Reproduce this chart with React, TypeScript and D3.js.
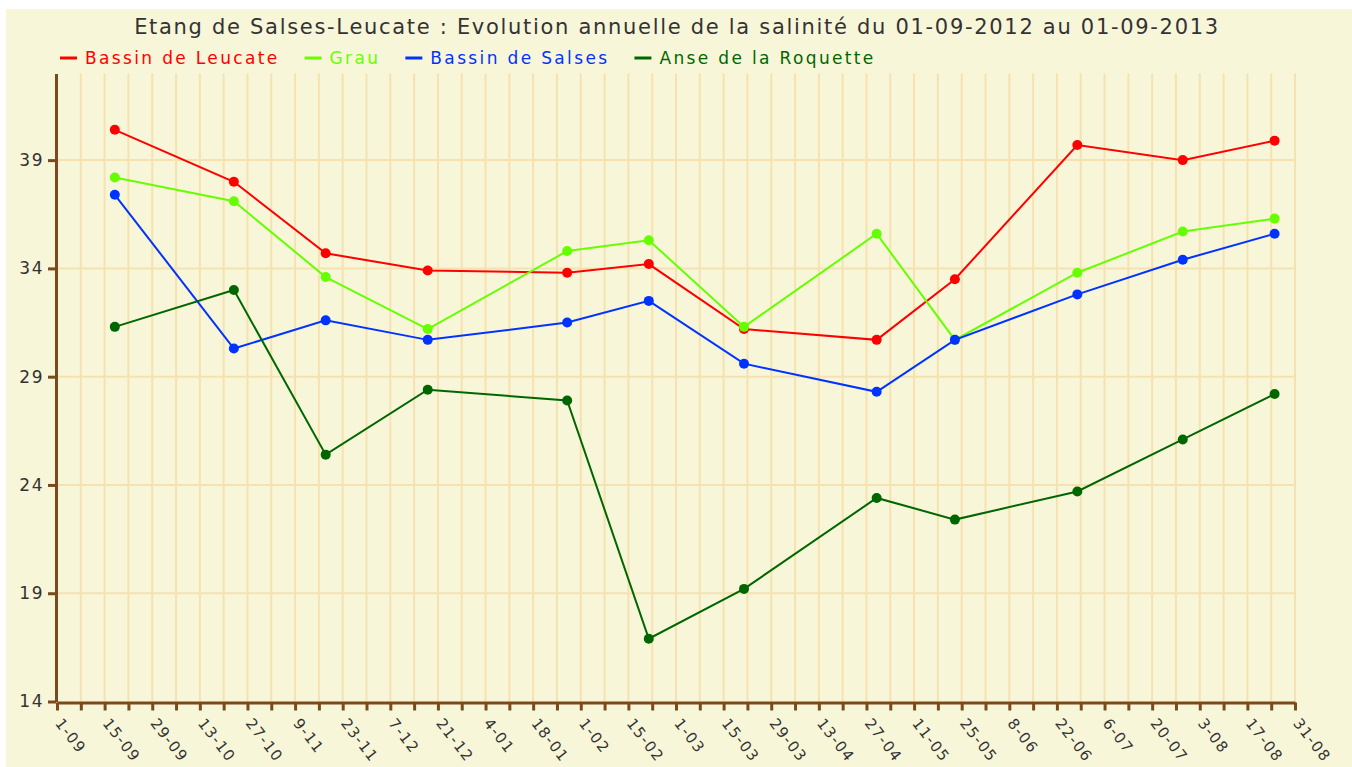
import { useEffect, useRef } from 'react';
import * as d3 from 'd3';

const title = 'Etang de Salses-Leucate : Evolution annuelle de la salinité du 01-09-2012 au 01-09-2013';

const sampleDates = [
  '2012-09-18', '2012-10-23', '2012-11-19', '2012-12-19', '2013-01-29', '2013-02-22',
  '2013-03-22', '2013-04-30', '2013-05-23', '2013-06-28', '2013-07-29', '2013-08-25',
];

const seriesNames = ['Bassin de Leucate', 'Grau', 'Bassin de Salses', 'Anse de la Roquette'];
const seriesColors = ['#ff0000', '#66ff00', '#0033ff', '#006600'];

const leucate = [40.4, 38.0, 34.7, 33.9, 33.8, 34.2, 31.2, 30.7, 33.5, 39.7, 39.0, 39.9];
const grau = [38.2, 37.1, 33.6, 31.2, 34.8, 35.3, 31.3, 35.6, 30.7, 33.8, 35.7, 36.3];
const salses = [37.4, 30.3, 31.6, 30.7, 31.5, 32.5, 29.6, 28.3, 30.7, 32.8, 34.4, 35.6];
const roquette = [31.3, 33.0, 25.4, 28.4, 27.9, 16.9, 19.2, 23.4, 22.4, 23.7, 26.1, 28.2];

const yTicks = [14, 19, 24, 29, 34, 39];
const yDomain: [number, number] = [14, 43];

const xTickLabels = [
  '1-09', '15-09', '29-09', '13-10', '27-10', '9-11', '23-11', '7-12', '21-12',
  '4-01', '18-01', '1-02', '15-02', '1-03', '15-03', '29-03', '13-04', '27-04',
  '11-05', '25-05', '8-06', '22-06', '6-07', '20-07', '3-08', '17-08', '31-08',
];
const xStart = '2012-09-01';
const xEnd = '2013-08-31';

const W = 1352;
const H = 767;
const FONT = '"DejaVu Sans", Verdana, sans-serif';
const BROWN = '#7a4a1d';
const GRID = '#f5e2b0';

export default function App() {
  const ref = useRef<SVGSVGElement>(null);

  useEffect(() => {
    if (!ref.current) return;
    const svg = d3.select(ref.current);
    svg.selectAll('*').remove();

    const margin = { top: 73.5, right: 57, bottom: 65.5, left: 57 };
    const x0 = margin.left;
    const x1 = W - margin.right;
    const y0 = H - margin.bottom;
    const y1 = margin.top;

    const parse = d3.utcParse('%Y-%m-%d');
    const start = parse(xStart) as Date;
    const end = parse(xEnd) as Date;

    const x = d3.scaleUtc().domain([start, end]).range([x0, x1]);
    const y = d3.scaleLinear().domain(yDomain).range([y0, y1]);

    svg.append('rect')
      .attr('x', 6).attr('y', 9)
      .attr('width', W - 6).attr('height', H - 9)
      .attr('fill', '#f8f6d9');

    // weekly ticks
    const weeks = d3.utcDay.range(start, d3.utcDay.offset(end, 1), 7);

    const grid = svg.append('g');
    grid.selectAll('line.v')
      .data(weeks.slice(1))
      .join('line')
      .attr('x1', d => x(d)).attr('x2', d => x(d))
      .attr('y1', y1).attr('y2', y0)
      .attr('stroke', GRID).attr('stroke-width', 2);
    grid.selectAll('line.h')
      .data(yTicks.slice(1))
      .join('line')
      .attr('x1', x0).attr('x2', x1)
      .attr('y1', d => y(d)).attr('y2', d => y(d))
      .attr('stroke', GRID).attr('stroke-width', 2);

    // y axis
    const yAxis = svg.append('g')
      .attr('transform', `translate(${x0 - 1},0)`)
      .call(d3.axisLeft(y).tickValues(yTicks).tickSize(8).tickSizeOuter(0).tickPadding(4));
    yAxis.select('.domain').attr('stroke', BROWN).attr('stroke-width', 3);
    yAxis.selectAll('.tick line').attr('stroke', BROWN).attr('stroke-width', 3);
    yAxis.selectAll('.tick text')
      .attr('fill', '#333')
      .style('font-family', FONT)
      .style('font-size', '17px')
      .style('letter-spacing', '1.5px');

    // x axis
    const xAxis = svg.append('g')
      .attr('transform', `translate(0,${y0 + 1})`)
      .call(d3.axisBottom(x)
        .tickValues(weeks)
        .tickSize(8)
        .tickSizeOuter(0)
        .tickFormat((_, i) => (i % 2 === 0 ? xTickLabels[i / 2] : '')));
    xAxis.select('.domain').attr('stroke', BROWN).attr('stroke-width', 3);
    xAxis.selectAll('.tick line').attr('stroke', BROWN).attr('stroke-width', 3);
    xAxis.selectAll('.tick text')
      .attr('fill', '#333')
      .attr('text-anchor', 'start')
      .attr('dy', null)
      .attr('y', 0)
      .attr('transform', 'translate(-3,21) rotate(52)')
      .style('font-family', FONT)
      .style('font-size', '15px')
      .style('letter-spacing', '1.3px');

    // series
    const allSeries = [leucate, grau, salses, roquette];
    const dates = sampleDates.map(d => parse(d) as Date);
    const line = d3.line<number>()
      .x((_, i) => x(dates[i]))
      .y(d => y(d));

    allSeries.forEach((values, s) => {
      const g = svg.append('g');
      g.append('path')
        .datum(values)
        .attr('fill', 'none')
        .attr('stroke', seriesColors[s])
        .attr('stroke-width', 2)
        .attr('d', line);
      g.selectAll('circle')
        .data(values)
        .join('circle')
        .attr('cx', (_, i) => x(dates[i]))
        .attr('cy', d => y(d))
        .attr('r', 5)
        .attr('fill', seriesColors[s]);
    });

    // title
    svg.append('text')
      .attr('x', 677).attr('y', 34)
      .attr('text-anchor', 'middle')
      .attr('fill', '#333')
      .style('font-family', FONT)
      .style('font-size', '21px')
      .style('letter-spacing', '1.7px')
      .text(title);

    // legend
    const legend = svg.append('g').attr('transform', 'translate(60,58)');
    let lx = 0;
    seriesNames.forEach((name, s) => {
      legend.append('line')
        .attr('x1', lx).attr('x2', lx + 17)
        .attr('y1', 0).attr('y2', 0)
        .attr('stroke', seriesColors[s]).attr('stroke-width', 3);
      const t = legend.append('text')
        .attr('x', lx + 25).attr('y', 6)
        .attr('fill', seriesColors[s])
        .style('font-family', FONT)
        .style('font-size', '17px')
        .style('letter-spacing', '2.35px')
        .text(name);
      const tw = (t.node() as SVGTextElement).getComputedTextLength();
      lx += 25 + tw + 25;
    });
  }, []);

  return (
    <svg
      ref={ref}
      width={W}
      height={H}
      style={{ position: 'absolute', left: 0, top: 0 }}
    />
  );
}
